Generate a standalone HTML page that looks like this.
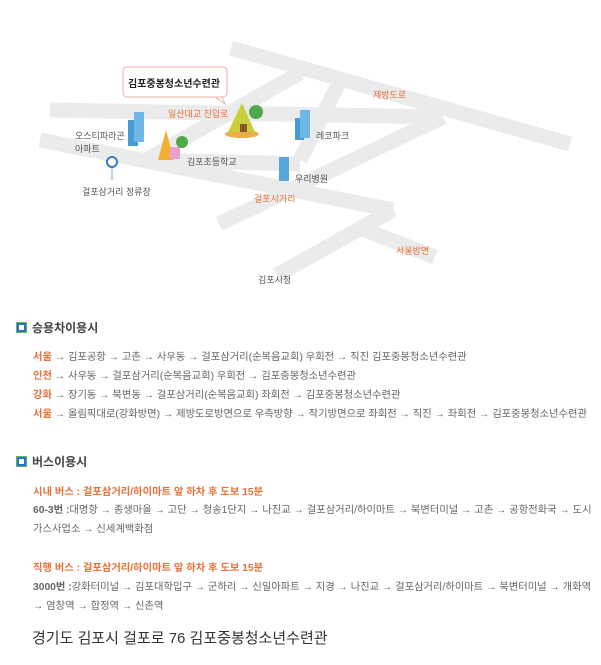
<!DOCTYPE html>
<html><head><meta charset="utf-8"><style>
body{margin:0;background:#fff;width:601px;height:665px;overflow:hidden;font-family:"Liberation Sans","Noto Sans CJK KR",sans-serif;position:relative}
.t{position:absolute;white-space:nowrap;font-size:9px;color:#555}
.o{color:#e8723a !important}
.h{position:absolute;font-size:12px;color:#444;font-weight:bold;white-space:nowrap}
.ic{position:absolute;width:9px;height:9px;background:#2a73c4;border:1px solid #5fb85f}
.ic:after{content:"";position:absolute;left:2px;top:2px;width:5px;height:5px;background:#fff}
.l{position:absolute;left:33px;font-size:10.3px;color:#666;white-space:nowrap}
.l b{font-weight:bold}
</style></head><body>
<svg width="601" height="300" style="position:absolute;left:0;top:0">
<g stroke="#ebebeb" stroke-width="15" fill="none" stroke-linecap="butt">
<line x1="231" y1="48" x2="570" y2="144"/>
<line x1="50" y1="110" x2="443" y2="117"/>
<line x1="40" y1="140" x2="393" y2="210"/>
<line x1="393" y1="210" x2="277" y2="275"/>
<line x1="360" y1="228" x2="435" y2="257"/>
<line x1="146" y1="160" x2="300" y2="73"/>
<line x1="339" y1="83" x2="300" y2="160"/>
<line x1="443" y1="117" x2="219" y2="224"/>
<line x1="146" y1="160" x2="300" y2="164"/>
</g>
<rect x="123" y="67" width="104" height="30" rx="4" fill="#fff" stroke="#e8b0a8"/>
<polygon points="215,97 225,104 222,97" fill="#fff" stroke="#e8b0a8"/>
<rect x="128" y="120" width="10" height="26" fill="#4a9ad6"/><rect x="134" y="112" width="10" height="30" fill="#6fb7e6"/>
<rect x="295" y="118" width="9" height="22" fill="#4a9ad6"/><rect x="300" y="110" width="10" height="28" fill="#6fb7e6"/>
<rect x="279" y="157" width="10" height="24" fill="#5aa6dc"/>
<ellipse cx="242" cy="134" rx="17" ry="4" fill="#e8b04a"/>
<path d="M228 132 L242 103 L255 132Z" fill="#c9cf3a"/><circle cx="256" cy="112" r="7" fill="#4fa84a"/>
<rect x="240" y="124" width="7" height="8" fill="#8b5a2b"/>
<path d="M158 160 L166 130 L174 160Z" fill="#f0b030"/><rect x="170" y="147" width="10" height="12" fill="#e8a0d0"/><circle cx="182" cy="142" r="6" fill="#4fa84a"/>
<line x1="112" y1="165" x2="112" y2="180" stroke="#7aa8d0"/><circle cx="112" cy="162" r="5" fill="#fff" stroke="#3a7ac0" stroke-width="2"/>
</svg>
<div class="t" style="left:128px;top:75px;font-size:10px;color:#222;font-weight:bold">김포중봉청소년수련관</div>
<div class="t o" style="left:168px;top:107px">일산대교 진입로</div>
<div class="t o" style="left:373px;top:88px">제방도로</div>
<div class="t" style="left:75px;top:129px">오스티파라곤<br>아파트</div>
<div class="t" style="left:316px;top:129px">레코파크</div>
<div class="t" style="left:187px;top:155px">김포초등학교</div>
<div class="t" style="left:295px;top:172px">우리병원</div>
<div class="t" style="left:82px;top:185px">걸포삼거리 정류장</div>
<div class="t o" style="left:254px;top:192px">걸포시거리</div>
<div class="t o" style="left:396px;top:244px">서울방면</div>
<div class="t" style="left:258px;top:273px">김포시청</div>

<div class="ic" style="left:16px;top:322px"></div><div class="h" style="left:32px;top:319px">승용차이용시</div>
<div class="l" style="top:348px"><span class="o"><b>서울</b></span> → 김포공항 → 고촌 → 사우동 → 걸포삼거리(순복음교회) 우회전 → 직진 김포중봉청소년수련관</div>
<div class="l" style="top:367px"><span class="o"><b>인천</b></span> → 사우동 → 걸포삼거리(순복음교회) 우회전 → 김포중봉청소년수련관</div>
<div class="l" style="top:386px"><span class="o"><b>강화</b></span> → 장기동 → 북변동 → 걸포삼거리(순복음교회) 좌회전 → 김포중봉청소년수련관</div>
<div class="l" style="top:405px"><span class="o"><b>서울</b></span> → 올림픽대로(강화방면) → 제방도로방면으로 우측방향 → 작기방면으로 좌회전 → 직진 → 좌회전 → 김포중봉청소년수련관</div>

<div class="ic" style="left:16px;top:456px"></div><div class="h" style="left:32px;top:453px">버스이용시</div>
<div class="l o" style="top:483px;font-weight:bold">시내 버스 : 걸포삼거리/하이마트 앞 하차 후 도보 15분</div>
<div class="l" style="top:501px"><b>60-3번 :</b>대명항 → 종생마을 → 고단 → 청송1단지 → 나진교 → 걸포삼거리/하이마트 → 북변터미널 → 고촌 → 공항전화국 → 도시</div>
<div class="l" style="top:520px">가스사업소 → 신세계백화점</div>
<div class="l o" style="top:559px;font-weight:bold">직행 버스 : 걸포삼거리/하이마트 앞 하차 후 도보 15분</div>
<div class="l" style="top:578px"><b>3000번 :</b>강화터미널 → 김포대학입구 → 군하리 → 신일아파트 → 지경 → 나진교 → 걸포삼거리/하이마트 → 북변터미널 → 개화역</div>
<div class="l" style="top:597px">→ 염창역 → 합정역 → 신촌역</div>
<div style="position:absolute;left:32px;top:627px;font-size:15px;color:#333;white-space:nowrap">경기도 김포시 걸포로 76 김포중봉청소년수련관</div>
</body></html>
